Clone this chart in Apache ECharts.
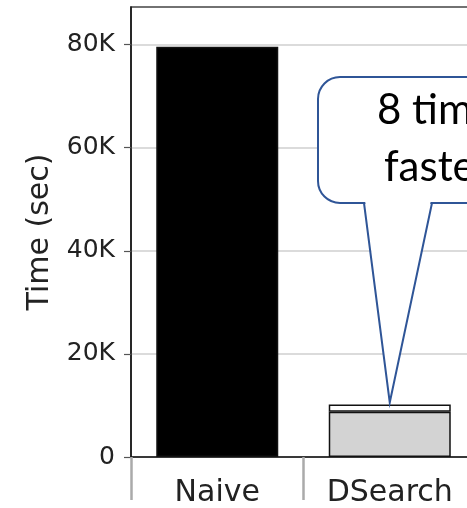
<!DOCTYPE html>
<html>
<head>
<meta charset="utf-8">
<script src="https://cdn.jsdelivr.net/npm/echarts@6/dist/echarts.min.js"></script>
<style>
  html, body { margin: 0; padding: 0; background: #fff; }
  #chart { width: 467px; height: 508px; }
</style>
</head>
<body>
<div id="chart"></div>
<script>
// Run time per method, in seconds
const categories = ['Naive', 'DSearch'];
const baseTime = [79600, 8800];      // main bar segment
const extraTime = [null, 1400];      // small stacked segment on top of DSearch
const yTicks = [0, 20000, 40000, 60000, 80000];
const yTickLabels = ['0', '20K', '40K', '60K', '80K'];
const yMax = 87300;
const calloutLines = ['8 times', 'faster'];

const chart = echarts.init(document.getElementById('chart'), null, { renderer: 'canvas' });

const font = 'DejaVu Sans';
const option = {
  animation: false,
  grid: {
    left: 131, width: 345, top: 7, bottom: 51,
    outerBoundsMode: 'none',
    containLabel: false,
    show: true, borderColor: '#444', borderWidth: 1.5, backgroundColor: 'transparent'
  },
  xAxis: {
    type: 'category',
    data: categories,
    axisLine: { lineStyle: { color: '#111', width: 1.5 } },
    axisTick: { show: true, length: 43, lineStyle: { color: '#aaa', width: 2.5 } },
    axisLabel: { fontFamily: font, fontSize: 30, color: '#222', margin: 21 }
  },
  yAxis: {
    type: 'value',
    min: 0, max: yMax,
    name: 'Time (sec)',
    nameLocation: 'middle',
    nameRotate: 90,
    nameGap: 76,
    nameTextStyle: { fontFamily: font, fontSize: 30, color: '#222' },
    axisLine: { show: true, lineStyle: { color: '#111', width: 1.5 } },
    axisTick: { show: true, length: 7, customValues: yTicks, lineStyle: { color: '#555', width: 1.2 } },
    axisLabel: {
      fontFamily: font, fontSize: 25, color: '#222', margin: 16,
      customValues: yTicks,
      formatter: v => yTickLabels[yTicks.indexOf(v)] ?? ''
    },
    splitLine: { show: true, lineStyle: { color: '#cfcfcf', width: 1.5 } }
  },
  series: [
    {
      type: 'bar', stack: 't', data: baseTime, barWidth: 122,
      itemStyle: {
        color: p => (p.dataIndex === 0 ? '#000000' : '#d3d3d3'),
        borderColor: '#111', borderWidth: 1.5
      },
      z: 3
    },
    {
      type: 'bar', stack: 't', data: extraTime, barWidth: 122,
      itemStyle: { color: '#ffffff', borderColor: '#111', borderWidth: 1.5 },
      z: 3
    }
  ]
};
chart.setOption(option);

// Callout bubble pointing at the top of the DSearch bar
const total = baseTime[1] + extraTime[1];
const tip = chart.convertToPixel({ gridIndex: 0 }, [categories[1], total]);
tip[1] -= 2;
const blue = '#2f5597';
const boxBottom = 203;
const lineStyle = { font: '42px Lato', fill: '#000', align: 'left', verticalAlign: 'middle' };
chart.setOption({
  graphic: [
    {
      type: 'rect', z: 100,
      shape: { x: 318, y: 77, width: 240, height: boxBottom - 77, r: 22 },
      style: { fill: '#fff', stroke: blue, lineWidth: 2 }
    },
    {
      type: 'polygon', z: 101,
      shape: { points: [[365, boxBottom - 3], [431, boxBottom - 3], tip] },
      style: { fill: '#fff' }
    },
    {
      type: 'polyline', z: 102,
      shape: { points: [[364, boxBottom], tip, [432, boxBottom]] },
      style: { stroke: blue, lineWidth: 2, fill: null }
    },
    {
      type: 'text', z: 103, x: 377, y: 110,
      style: Object.assign({ text: calloutLines[0] }, lineStyle)
    },
    {
      type: 'text', z: 103, x: 384, y: 167,
      style: Object.assign({ text: calloutLines[1] }, lineStyle)
    }
  ]
});
</script>
</body>
</html>
